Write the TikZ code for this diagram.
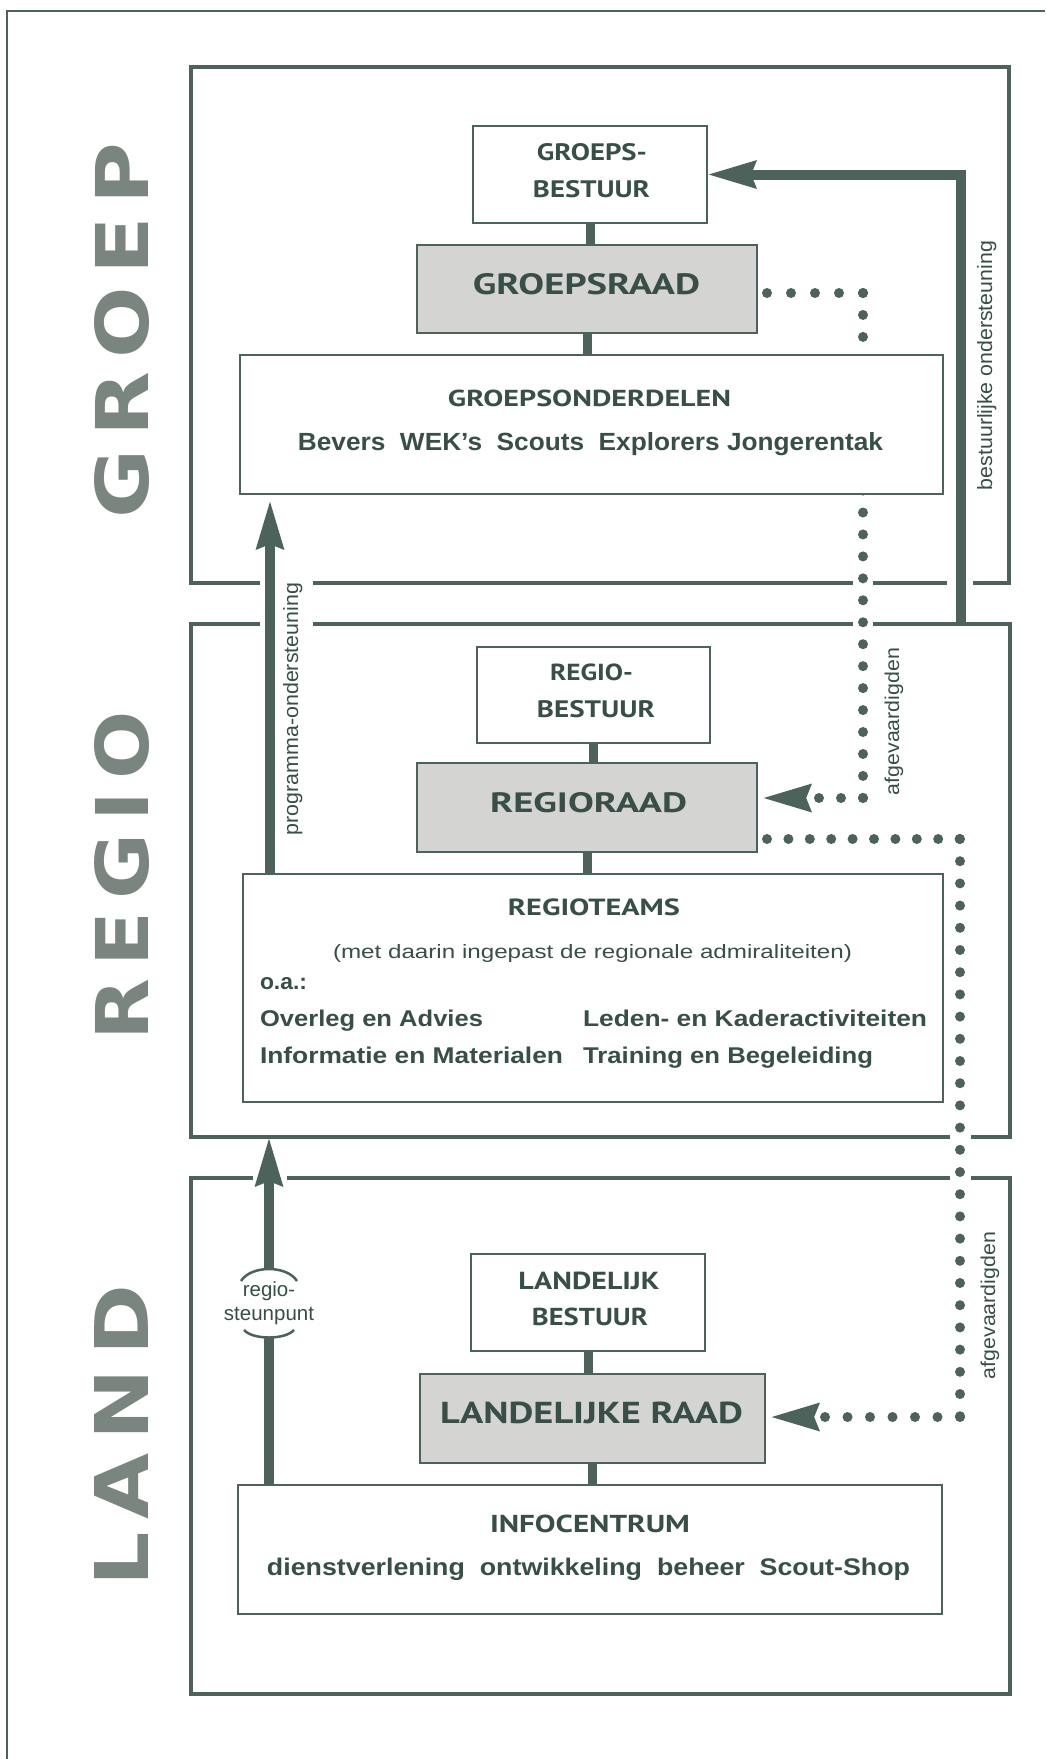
\documentclass[tikz,border=0pt]{standalone}
\usepackage{fontspec}
\usepackage{graphicx}
\usetikzlibrary{arrows.meta,calc}
\newfontfamily\titlefont{PT Sans}
\newfontfamily\bodyfont{Liberation Sans}
\newfontfamily\bigfont{DejaVu Sans}
\definecolor{ink}{RGB}{56,78,71}
\definecolor{lineink}{RGB}{76,98,90}
\definecolor{shade}{RGB}{212,212,210}
\definecolor{biggrey}{RGB}{122,133,128}
\newcommand\ttl[3]{\resizebox{#1pt}{#2pt}{\titlefont\bfseries #3}}
\newcommand\bdy[3]{\resizebox{#1pt}{#2pt}{\bodyfont\bfseries #3}}
\newcommand\lbl[3]{\resizebox{#1pt}{#2pt}{\bodyfont #3}}
\newcommand\bigw[3]{\resizebox{#1pt}{#2pt}{\bigfont\bfseries #3}}
\begin{document}
\begin{tikzpicture}[x=1pt,y=-1pt,
 groupbox/.style={draw=lineink, line width=3.5pt, inner sep=0pt, outer sep=0pt},
 innerbox/.style={draw=lineink, line width=2pt, fill=white, inner sep=0pt, outer sep=0pt},
 greybox/.style={innerbox, fill=shade},
 txtnode/.style={inner sep=0pt, outer sep=0pt, text=ink, anchor=base},
 rtxtnode/.style={txtnode, rotate=90},
 stem/.style={draw=lineink, line width=9pt},
 fatarrow/.style={draw=lineink, line width=10pt, -{Stealth[length=48pt,width=26pt,inset=4pt]}},
 dotline/.style={draw=lineink, line width=10pt, line cap=round},
 gapfill/.style={fill=white},
 arcline/.style={draw=lineink, line width=2.5pt},
]
\useasboundingbox (0,0) rectangle (1045,1759);
\fill[white] (0,0) rectangle (1045,1759);
% outer frame
\draw[lineink, line width=1.8pt] (7,1759) -- (7,11) -- (1045,11);

% group boxes
\node[groupbox, minimum width=818pt, minimum height=516pt] (groep) at (600,325) {};
\node[groupbox, minimum width=819pt, minimum height=513pt] (regio) at (600.5,880.5) {};
\node[groupbox, minimum width=819pt, minimum height=516pt] (land) at (600.5,1436) {};

% gaps in group borders
\fill[gapfill] (260,578) rectangle (313,589);
\fill[gapfill] (853,578) rectangle (873,589);
\fill[gapfill] (947,578) rectangle (973,589);
\fill[gapfill] (260,619) rectangle (313,630);
\fill[gapfill] (853,619) rectangle (873,630);
\fill[gapfill] (950,1132) rectangle (971,1143);
\fill[gapfill] (253,1173) rectangle (287,1184);
\fill[gapfill] (950,1173) rectangle (971,1184);

% big words
\node[rtxtnode, text=biggrey] (wgroep) at (148,330.5) {\bigw{375}{54}{G\kern.15em R\kern.15em O\kern.15em E\kern.15em P}};
\node[rtxtnode, text=biggrey] (wregio) at (148,875.5) {\bigw{329}{54}{R\kern.15em E\kern.15em G\kern.15em I\kern.15em O}};
\node[rtxtnode, text=biggrey] (wland) at (148,1435.5) {\bigw{301}{54}{L\kern.15em A\kern.15em N\kern.15em D}};

% coordinates
\coordinate (colA) at (270,0);
\coordinate (colB) at (269,0);
\coordinate (colR) at (961,0);
\coordinate (d1s) at (767,293);
\coordinate (d1a) at (863,293);
\coordinate (d1b) at (863,798);
\coordinate (d2s) at (767,839);
\coordinate (d2a) at (960,839);
\coordinate (d2b) at (960,1417);

% inner box anchors
\path (590,174.5) node[innerbox, draw=none, fill=none, minimum width=234pt, minimum height=97pt] (gb) {};
\path (587,289) node[innerbox, draw=none, fill=none, minimum width=340pt, minimum height=88pt] (gr) {};
\path (591.5,424.5) node[innerbox, draw=none, fill=none, minimum width=703pt, minimum height=139pt] (go) {};
\path (593.5,695) node[innerbox, draw=none, fill=none, minimum width=233pt, minimum height=96pt] (rb) {};
\path (587,807.5) node[innerbox, draw=none, fill=none, minimum width=340pt, minimum height=89pt] (rr) {};
\path (593,988) node[innerbox, draw=none, fill=none, minimum width=700pt, minimum height=228pt] (rt) {};
\path (588,1302.5) node[innerbox, draw=none, fill=none, minimum width=234pt, minimum height=97pt] (lb) {};
\path (592.5,1418.5) node[innerbox, draw=none, fill=none, minimum width=345pt, minimum height=89pt] (lr) {};
\path (590,1549.5) node[innerbox, draw=none, fill=none, minimum width=704pt, minimum height=129pt] (ic) {};

% dotted connectors
\draw[dotline, dash pattern=on 0pt off 24pt] (d1s) -- (d1a);
\draw[dotline, dash pattern=on 0pt off 21.95pt] (d1a) -- (d1b);
\draw[dotline, dash pattern=on 0pt off 22pt, -{Stealth[length=48pt,width=26pt,inset=4pt]}] (d1b) -- ($(rr.east |- d1b)+(5,0)$);
\draw[dotline, dash pattern=on 0pt off 21.4pt] (d2s) -- (d2a);
\draw[dotline, dash pattern=on 0pt off 22.2pt] (d2a) -- (d2b);
\draw[dotline, dash pattern=on 0pt off 22.5pt, -{Stealth[length=48pt,width=26pt,inset=4pt]}] (d2b) -- ($(lr.east |- d2b)+(5,0)$);

% stems between boxes
\draw[stem] (gb.south) -- (gb.south |- gr.north);
\draw[stem] (gr.south) -- (gr.south |- go.north);
\draw[stem] (rb.south) -- (rb.south |- rr.north);
\draw[stem] (rr.south) -- (rr.south |- rt.north);
\draw[stem] (lb.south) -- (lb.south |- lr.north);
\draw[stem] (lr.south) -- (lr.south |- ic.north);

% thick arrows
\draw[fatarrow] (regio.north -| colR) |- (gb.east);
\draw[fatarrow, shorten >=6pt] (rt.north -| colA) -- (go.south -| colA);

% regio-steunpunt
\node[txtnode, anchor=center, align=center, minimum height=70pt, font=\bodyfont\fontsize{20.5}{24}\selectfont] (rs) at (269,1303) {regio-\\steunpunt};
\draw[stem, line width=10pt] (ic.north -| colB) -- (rs.south);
\draw[fatarrow] (rs.north) -- (regio.south -| colB);
\draw[arcline] ($(rs.north)+(-28,13)$) .. controls ($(rs.north)+(-18,-3)$) and ($(rs.north)+(18,-3)$) .. ($(rs.north)+(28,13)$);
\draw[arcline] ($(rs.south)+(-25,-8)$) .. controls ($(rs.south)+(-16,2)$) and ($(rs.south)+(16,2)$) .. ($(rs.south)+(25,-8)$);

% visible inner boxes
\draw[lineink, line width=2pt, fill=white] (gb.north west) rectangle (gb.south east);
\draw[lineink, line width=2pt, fill=shade] (gr.north west) rectangle (gr.south east);
\draw[lineink, line width=2pt, fill=white] (go.north west) rectangle (go.south east);
\draw[lineink, line width=2pt, fill=white] (rb.north west) rectangle (rb.south east);
\draw[lineink, line width=2pt, fill=shade] (rr.north west) rectangle (rr.south east);
\draw[lineink, line width=2pt, fill=white] (rt.north west) rectangle (rt.south east);
\draw[lineink, line width=2pt, fill=white] (lb.north west) rectangle (lb.south east);
\draw[lineink, line width=2pt, fill=shade] (lr.north west) rectangle (lr.south east);
\draw[lineink, line width=2pt, fill=white] (ic.north west) rectangle (ic.south east);

% texts
\node[txtnode] (tgb1) at (592,160.5) {\ttl{110}{17}{GROEPS-}};
\node[txtnode] (tgb2) at (591.5,197) {\ttl{117}{17}{BESTUUR}};
\node[txtnode] (tgr) at (586.5,294.5) {\ttl{227}{21}{GROEPSRAAD}};
\node[txtnode] (tgo1) at (589.5,406) {\ttl{283}{16.5}{GROEPSONDERDELEN}};
\node[txtnode] (tgo2) at (590.5,450) {\bdy{585}{18}{Bevers\ \ WEK’s\ \ Scouts\ \ Explorers Jongerentak}};
\node[txtnode] (trb1) at (591.5,680) {\ttl{83}{16.6}{REGIO-}};
\node[txtnode] (trb2) at (596,717) {\ttl{118}{17}{BESTUUR}};
\node[txtnode] (trr) at (588.5,812) {\ttl{197}{20}{REGIORAAD}};
\node[txtnode] (trt1) at (594,915) {\ttl{172}{16.7}{REGIOTEAMS}};
\node[txtnode] (trt2) at (592.5,958) {\lbl{519}{14}{(met daarin ingepast de regionale admiraliteiten)}};
\node[txtnode, anchor=base west] (trt3) at (260,989) {\bdy{47}{12}{o.a.:}};
\node[txtnode, anchor=base west] (trt4) at (260,1026) {\bdy{223}{16.5}{Overleg en Advies}};
\node[txtnode, anchor=base west] (trt5) at (583,1026) {\bdy{344}{16.5}{Leden- en Kaderactiviteiten}};
\node[txtnode, anchor=base west] (trt6) at (260,1063) {\bdy{303}{16.5}{Informatie en Materialen}};
\node[txtnode, anchor=base west] (trt7) at (583,1063) {\bdy{290}{16.5}{Training en Begeleiding}};
\node[txtnode] (tlb1) at (589,1289) {\ttl{141}{17.5}{LANDELIJK}};
\node[txtnode] (tlb2) at (590,1325.5) {\ttl{116}{17.5}{BESTUUR}};
\node[txtnode] (tlr) at (591.5,1423.5) {\ttl{303}{21.5}{LANDELIJKE RAAD}};
\node[txtnode] (tic1) at (590,1532.5) {\ttl{200}{17.5}{INFOCENTRUM}};
\node[txtnode] (tic2) at (588.5,1575) {\bdy{643}{17.4}{dienstverlening\ \ ontwikkeling\ \ beheer\ \ Scout-Shop}};

% rotated labels
\node[rtxtnode] (lbest) at (992,365.5) {\lbl{249}{15}{bestuurlijke ondersteuning}};
\node[rtxtnode] (lprog) at (298,709) {\lbl{252}{15}{programma-ondersteuning}};
\node[rtxtnode] (lafg1) at (899,721.5) {\lbl{147}{14.5}{afgevaardigden}};
\node[rtxtnode] (lafg2) at (995,1305.5) {\lbl{147}{14.5}{afgevaardigden}};
\end{tikzpicture}
\end{document}
